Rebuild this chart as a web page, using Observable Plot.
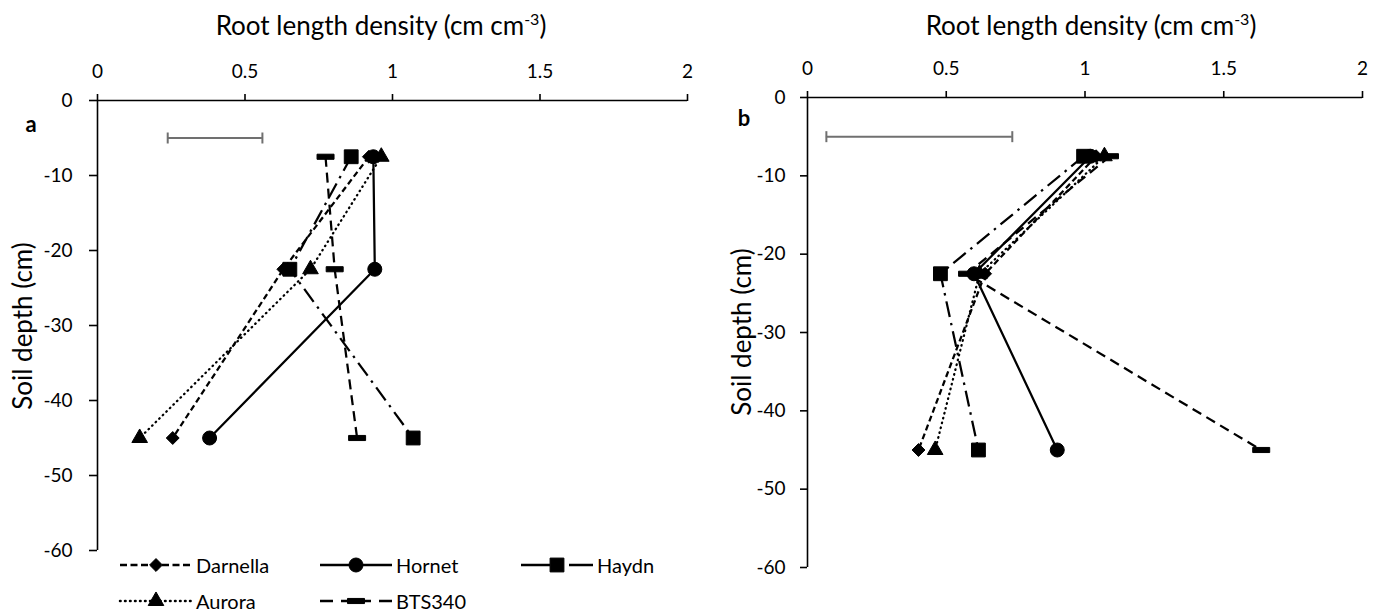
<!DOCTYPE html>
<html>
<head>
<meta charset="utf-8">
<script src="https://cdn.jsdelivr.net/npm/d3@7"></script>
<script src="https://cdn.jsdelivr.net/npm/@observablehq/plot@0.6"></script>
<style>
  body { margin: 0; background: #fff; font-family: Lato, "Open Sans", sans-serif; color: #000; }
  #root { position: relative; width: 1384px; height: 615px; overflow: hidden; background: #fff; }
  .abs { position: absolute; }
  .title { font-size: 26px; white-space: nowrap; transform: translate(-50%, -50%); line-height: 1; }
  .title sup { font-size: 16px; vertical-align: 10px; line-height: 0; }
  .plabel { font-size: 22px; font-weight: bold; transform: translate(-50%, -50%); line-height: 1; }
  .leg { display: flex; align-items: center; font-size: 20px; white-space: nowrap; transform: translateY(-50%); }
  .leg svg { margin-right: 4px; overflow: visible; }
</style>
</head>
<body>
<div id="root"></div>
<script>
// ---------------- data ----------------
const depthLevels = [-7.5, -22.5, -45];           // soil depth (cm)
const cultivars = ["Darnella", "Hornet", "Haydn", "Aurora", "BTS340"];

// panel a: root length density (cm cm-3) at each depth
const aDarnella = [0.92, 0.63, 0.255];
const aHornet   = [0.935, 0.94, 0.38];
const aHaydn    = [0.86, 0.652, 1.07];
const aAurora   = [0.962, 0.722, 0.143];
const aBTS340   = [0.773, 0.804, 0.88];

// panel b
const bDarnella = [1.04, 0.64, 0.40];
const bHornet   = [1.02, 0.60, 0.90];
const bHaydn    = [0.995, 0.479, 0.616];
const bAurora   = [1.07, 0.62, 0.46];
const bBTS340   = [1.09, 0.575, 1.635];

// LSD bars (x extent) and their depth
const lsdDepth = -5;
const lsdA = [0.238, 0.559];
const lsdB = [0.068, 0.738];

const xTicks = [0, 0.5, 1, 1.5, 2];
const yTicks = [0, -10, -20, -30, -40, -50, -60];

// ---------------- styles ----------------
const hbar = { draw(ctx, size) { const r = Math.sqrt(size / Math.PI); const h = r * 0.3;
  ctx.moveTo(-r, -h); ctx.lineTo(r, -h); ctx.lineTo(r, h); ctx.lineTo(-r, h); ctx.closePath(); } };
const vbar = { draw(ctx, size) { const r = Math.sqrt(size / Math.PI);
  ctx.moveTo(0, -r); ctx.lineTo(0, r); } };

const styles = {
  Darnella: { dash: "6,3.5", legDash: "7,3.5", cap: "butt", symbol: "diamond2", r: 5.8 },
  Hornet:   { dash: null, legDash: null, cap: "butt", symbol: "circle", r: 7 },
  Haydn:    { dash: "16,6,2.5,6", legDash: "29,19,30", cap: "butt", symbol: "square", r: 7.8 },
  Aurora:   { dash: "0.6,4.4", legDash: "0.6,4.4", cap: "round", symbol: "triangle", r: 5.8 },
  BTS340:   { dash: "10,6", legDash: "13,8,30,8", cap: "butt", symbol: hbar, r: 8.5 }
};

function rows(values) { return depthLevels.map((d, i) => ({ depth: d, rld: values[i] })); }

function panel(series, lsd, o) {
  const marks = [
    Plot.ruleY([0], { stroke: "#000", strokeWidth: 1.6 }),
    Plot.ruleX([0], { stroke: "#000", strokeWidth: 1.6 }),
    Plot.axisX({ anchor: "top", ticks: xTicks, tickSize: 7, tickPadding: o.xPad, tickFormat: d => String(d),
      label: null, fontSize: 19, strokeWidth: 1.6 }),
    Plot.axisY({ anchor: "left", ticks: yTicks, tickSize: o.yTick, tickPadding: o.yPad, tickFormat: d => String(d),
      label: null, fontSize: 19, strokeWidth: 1.6 }),
    Plot.ruleY([{ depth: lsdDepth, x1: lsd[0], x2: lsd[1] }], { y: "depth", x1: "x1", x2: "x2", stroke: "#707070", strokeWidth: 2 }),
    Plot.dot(lsd.map(x => ({ x, depth: lsdDepth })), { x: "x", y: "depth", symbol: vbar, r: 5.5, stroke: "#707070", strokeWidth: 2, fill: "none" })
  ];
  cultivars.forEach(c => {
    const st = styles[c];
    marks.push(Plot.line(rows(series[c]), { x: "rld", y: "depth", stroke: "#000", strokeWidth: 2.25,
      strokeDasharray: st.dash || undefined, strokeLinecap: st.cap }));
  });
  cultivars.forEach(c => {
    const st = styles[c];
    marks.push(Plot.dot(rows(series[c]), { x: "rld", y: "depth", symbol: st.symbol, r: st.r, fill: "#000",
      stroke: "#000", strokeWidth: 1, strokeLinejoin: "round" }));
  });
  return Plot.plot({
    width: o.width, height: o.height,
    marginLeft: o.ml, marginRight: o.mr, marginTop: o.mt, marginBottom: o.mb,
    style: { fontFamily: "Lato, 'Open Sans', sans-serif", fontSize: "19px", color: "#000", background: "transparent", overflow: "visible" },
    x: { domain: [0, 2], axis: null },
    y: { domain: [-60, 0], axis: null },
    marks
  });
}

const root = document.getElementById("root");
function place(el, left, top) { el.classList.add("abs"); el.style.left = left + "px"; el.style.top = top + "px"; root.appendChild(el); return el; }
function html(s) { const d = document.createElement("div"); d.innerHTML = s; return d.firstElementChild; }

// panel a
const chartA = panel({ Darnella: aDarnella, Hornet: aHornet, Haydn: aHaydn, Aurora: aAurora, BTS340: aBTS340 }, lsdA,
  { width: 700, height: 515, ml: 97, mr: 13, mt: 56, mb: 9, xPad: 16, yTick: 8, yPad: 17 });
place(chartA, 0, 44);
// panel b
const chartB = panel({ Darnella: bDarnella, Hornet: bHornet, Haydn: bHaydn, Aurora: bAurora, BTS340: bBTS340 }, lsdB,
  { width: 684, height: 571, ml: 107, mr: 22, mt: 53, mb: 48, xPad: 16, yTick: 7, yPad: 15 });
place(chartB, 700, 44);

// titles
place(html('<div class="title">Root length density (cm cm<sup>-3</sup>)</div>'), 381, 25);
place(html('<div class="title">Root length density (cm cm<sup>-3</sup>)</div>'), 1091, 25);
// y labels
const yl1 = place(html('<div class="title">Soil depth (cm)</div>'), 22, 326); yl1.style.transform = "translate(-50%,-50%) rotate(-90deg)";
const yl2 = place(html('<div class="title">Soil depth (cm)</div>'), 741, 332); yl2.style.transform = "translate(-50%,-50%) rotate(-90deg)";
// panel letters
place(html('<div class="plabel">a</div>'), 31, 124);
place(html('<div class="plabel">b</div>'), 744, 118);

// legend
const legendPos = { Darnella: [120, 565], Hornet: [320, 565], Haydn: [521, 565], Aurora: [120, 601], BTS340: [320, 601] };
cultivars.forEach(c => {
  const st = styles[c];
  const item = document.createElement("div");
  item.className = "leg";
  const svg = d3.create("svg").attr("width", 72).attr("height", 20);
  svg.append("line").attr("x1", 0).attr("x2", 72).attr("y1", 10).attr("y2", 10)
    .attr("stroke", "#000").attr("stroke-width", 2.5)
    .attr("stroke-dasharray", st.legDash).attr("stroke-linecap", st.cap);
  const symType = typeof st.symbol === "string"
    ? { circle: d3.symbolCircle, square: d3.symbolSquare, triangle: d3.symbolTriangle, diamond2: d3.symbolDiamond2 }[st.symbol]
    : st.symbol;
  svg.append("path").attr("transform", "translate(36,10)")
    .attr("d", d3.symbol(symType, Math.PI * st.r * st.r)())
    .attr("fill", "#000").attr("stroke", "#000").attr("stroke-width", 1).attr("stroke-linejoin", "round");
  item.appendChild(svg.node());
  const t = document.createElement("span"); t.textContent = c; item.appendChild(t);
  place(item, legendPos[c][0], legendPos[c][1]);
});
</script>
</body>
</html>
